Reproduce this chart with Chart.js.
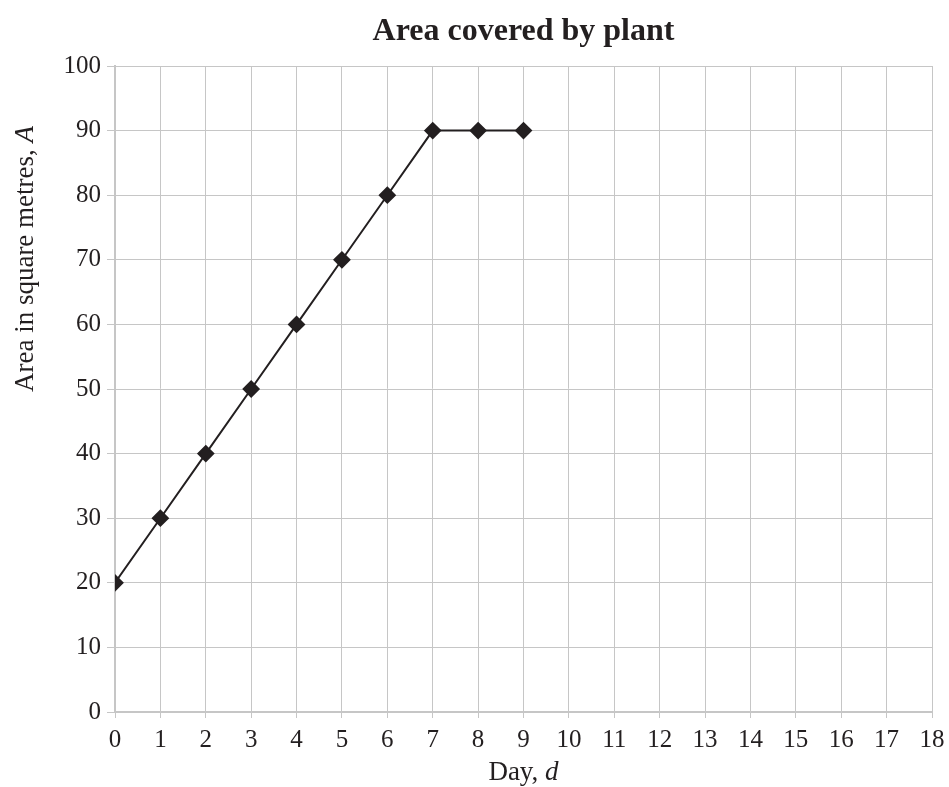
<!DOCTYPE html>
<html>
<head>
<meta charset="utf-8">
<script src="https://cdn.jsdelivr.net/npm/chart.js@4/dist/chart.umd.min.js"></script>
<style>
  html, body { margin: 0; padding: 0; background: #fff; }
</style>
</head>
<body>
<canvas id="grafico" width="949" height="787"></canvas>
<script>
const days = [0, 1, 2, 3, 4, 5, 6, 7, 8, 9];
const area = [20, 30, 40, 50, 60, 70, 80, 90, 90, 90];
const chartTitle = 'Area covered by plant';
const xTitle = ['Day, ', 'd'];
const yTitle = ['Area in square metres, ', 'A'];

const fonte = '"Liberation Serif", "Times New Roman", serif';
const cinza = '#c6c6c6';
const tinta = '#231f20';

// titulo e titulos dos eixos (letra da variavel em italico)
const textos = {
    id: 'textos',
    afterDraw(chart) {
        const ctx = chart.ctx;
        const a = chart.chartArea;
        const normal = '27px ' + fonte;
        const italic = 'italic 27px ' + fonte;

        function misto(partes, cx, base) {
            ctx.font = normal;
            const w1 = ctx.measureText(partes[0]).width;
            ctx.font = italic;
            const w2 = ctx.measureText(partes[1]).width;
            const x = cx - (w1 + w2) / 2;
            ctx.textBaseline = 'alphabetic';
            ctx.textAlign = 'left';
            ctx.fillStyle = tinta;
            ctx.font = normal;
            ctx.fillText(partes[0], x, base);
            ctx.font = italic;
            ctx.fillText(partes[1], x + w1, base);
        }

        ctx.save();
        ctx.font = 'bold 32px ' + fonte;
        ctx.fillStyle = tinta;
        ctx.textAlign = 'center';
        ctx.textBaseline = 'alphabetic';
        ctx.fillText(chartTitle, (a.left + a.right) / 2, 40);
        ctx.restore();

        ctx.save();
        misto(xTitle, (a.left + a.right) / 2, 780);
        ctx.restore();

        ctx.save();
        ctx.translate(33, 259);
        ctx.rotate(-Math.PI / 2);
        misto(yTitle, 0, 0);
        ctx.restore();
    }
};

const ctx = document.getElementById('grafico').getContext('2d');
new Chart(ctx, {
    type: 'line',
    data: {
        datasets: [{
            data: days.map((d, i) => ({ x: d, y: area[i] })),
            borderColor: tinta,
            backgroundColor: tinta,
            borderWidth: 2,
            pointStyle: 'rectRot',
            pointRadius: 7.5,
            pointHoverRadius: 7.5,
            fill: false,
            tension: 0
        }]
    },
    options: {
        responsive: false,
        animation: false,
        layout: { padding: { left: 0, right: 17, top: 66, bottom: 0 } },
        plugins: {
            legend: { display: false },
            tooltip: { enabled: false },
            title: { display: false }
        },
        scales: {
            x: {
                type: 'linear',
                min: 0,
                max: 18,
                afterFit(scale) { scale.height = 75; },
                ticks: {
                    stepSize: 1,
                    color: tinta,
                    padding: 4,
                    font: { family: fonte, size: 25, lineHeight: 1.5 }
                },
                grid: { color: cinza, tickLength: 6, lineWidth: 1 },
                border: { color: cinza, width: 2 }
            },
            y: {
                min: 0,
                max: 100,
                afterFit(scale) { scale.width = 115; },
                ticks: {
                    stepSize: 10,
                    color: tinta,
                    padding: 6,
                    font: { family: fonte, size: 25 }
                },
                grid: { color: cinza, tickLength: 8, lineWidth: 1 },
                border: { color: cinza, width: 2 }
            }
        }
    },
    plugins: [textos]
});
</script>
</body>
</html>
